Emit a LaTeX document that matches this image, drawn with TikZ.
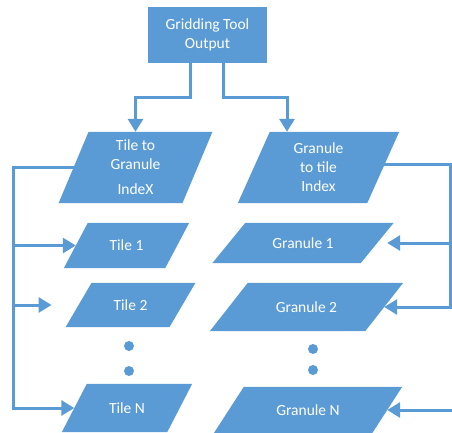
\documentclass[tikz,border=0pt]{standalone}
\usepackage{fontspec}
\setmainfont{Carlito}
\usetikzlibrary{arrows.meta, backgrounds}

\definecolor{boxblue}{HTML}{5B9BD5}

\tikzset{
  txt/.style={text=white, font=\fontsize{15.5}{19}\selectfont, align=center, inner sep=0pt},
  procbox/.style={txt, fill=boxblue, minimum width=119pt, minimum height=56pt},
  iobox/.style 2 args={txt, minimum width=#1pt, minimum height=#2pt},
  link/.style={draw=boxblue, line width=3pt},
  flow/.style={link, -{Triangle[length=13pt,width=15pt]}},
  dotmark/.style={circle, fill=boxblue, inner sep=0pt, minimum size=10pt}
}

\begin{document}
\begin{tikzpicture}[x=1pt, y=-1pt]
  \useasboundingbox (0,0) rectangle (452,433);

  \node[procbox] (grid) at (207.5,35) {Gridding Tool\\Output};

  % index tables
  \node[iobox={123.5}{71}] (tidx) at (135.5,167.5) {Tile to\\Granule\\[6pt]IndeX};
  \node[iobox={129}{71}] (gidx) at (318.5,167.5) {Granule\\to tile\\Index};

  % tiles
  \node[iobox={101}{45}] (tile1) at (126.5,245.5) {Tile 1};
  \node[iobox={103.5}{44}] (tile2) at (130.5,305) {Tile 2};
  \node[iobox={105}{48}] (tileN) at (127,408) {Tile N};

  % granules
  \node[iobox={148}{40}] (gran1) at (303,243) {Granule 1};
  \node[iobox={155}{48}] (gran2) at (306.5,307) {Granule 2};
  \node[iobox={158}{46}] (granN) at (308,410) {Granule N};

  % slanted fills behind the texts
  \begin{scope}[on background layer]
    \foreach \n/\s in {tidx/15, gidx/16, tile1/12, tile2/13, tileN/12.5,
                       gran1/16.5, gran2/19, granN/15}
      \fill[boxblue] ([xshift=-\s pt]\n.south west) -- ([xshift=\s pt]\n.north west)
        -- ([xshift=\s pt]\n.north east) -- ([xshift=-\s pt]\n.south east) -- cycle;
  \end{scope}

  \node[dotmark] (tdot1) at (129,346) {};
  \node[dotmark] (tdot2) at (129,371) {};
  \node[dotmark] (gdot1) at (313,349) {};
  \node[dotmark] (gdot2) at (313,370) {};

  \coordinate (lrail) at (13,0);
  \coordinate (rrail) at (450,0);
  \coordinate (redge) at (453,0);

  \draw[flow] ([xshift=-17.5pt]grid.south) -- ++(0pt,-34pt) -| (tidx.north);
  \draw[flow] ([xshift=15.5pt]grid.south) -- ++(0pt,-34pt) -| ([xshift=-31.5pt]gidx.north);

  \draw[flow] (tidx.west) -| (lrail |- tileN.west) -- (tileN.west);
  \draw[flow] (lrail |- tile1.west) -- (tile1.west);
  \draw[flow] (lrail |- tile2.west) -- ([xshift=-27pt]tile2.west);

  \draw[flow] ([yshift=3pt]gidx.east) -| (rrail |- gran2.east) -- (gran2.east);
  \draw[flow] (rrail |- gran1.east) -- ([xshift=10pt]gran1.east);
  \draw[flow] (redge |- granN.east) -- (granN.east);
\end{tikzpicture}
\end{document}
